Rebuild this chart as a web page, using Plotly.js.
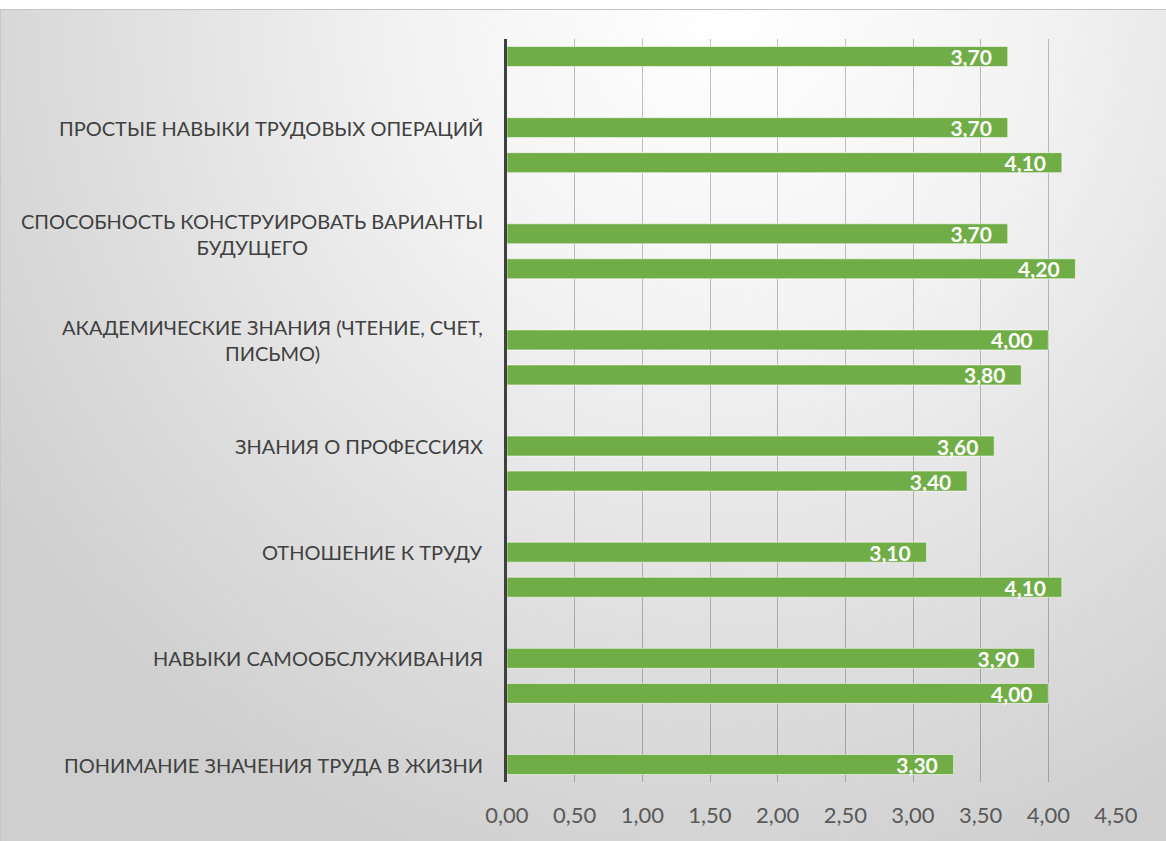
<!DOCTYPE html>
<html>
<head>
<meta charset="utf-8">
<script src="https://cdn.plot.ly/plotly-3.0.1.min.js"></script>
<style>
  html, body { margin:0; padding:0; background:#ffffff; }
  #bg { position:absolute; left:0; top:9px; width:1165px; height:831px;
        border-top:1px solid #c4c4c4; border-left:1px solid #c8c8c8;
        background: radial-gradient(ellipse 75% 110% at 62% 0%, #ffffff 0%, #f3f3f3 35%, #dcdcdc 75%, #cfcfcf 100%); }
  #chart { position:absolute; left:0; top:0; width:1166px; height:841px; }
</style>
</head>
<body>
<div id="bg"></div>
<div id="chart"></div>
<script>
// categories from bottom to top (the top one is cut off at the plot edge, its label is not shown)
const categories = [
  "ПОНИМАНИЕ ЗНАЧЕНИЯ ТРУДА В ЖИЗНИ",
  "НАВЫКИ САМООБСЛУЖИВАНИЯ",
  "ОТНОШЕНИЕ К ТРУДУ",
  "ЗНАНИЯ О ПРОФЕССИЯХ",
  "АКАДЕМИЧЕСКИЕ ЗНАНИЯ (ЧТЕНИЕ, СЧЕТ,<br>ПИСЬМО)",
  "СПОСОБНОСТЬ КОНСТРУИРОВАТЬ ВАРИАНТЫ<br>БУДУЩЕГО",
  "ПРОСТЫЕ НАВЫКИ ТРУДОВЫХ ОПЕРАЦИЙ",
  " "
];
// upper bar of each pair (sits at the category label)
const seriesUpper = [3.30, 3.90, 3.10, 3.60, 4.00, 3.70, 3.70, null];
// lower bar of each pair
const seriesLower = [null, 4.00, 4.10, 3.40, 3.80, 4.20, 4.10, 3.70];
const labeledCategories = categories.filter(c => c.trim() !== "");
const xTickVals = [0, 0.5, 1, 1.5, 2, 2.5, 3, 3.5, 4, 4.5];

const FONT = "Lato, 'Open Sans', sans-serif";

function barTrace(vals, name) {
  return {
    type: "bar", orientation: "h", name: name,
    x: vals, y: categories,
    marker: { color: "#70AD47", line: { color: "rgba(255,255,255,0.55)", width: 1 } },
    texttemplate: "%{x:.2f}\u00a0\u00a0\u2009",
    textposition: "inside", insidetextanchor: "end", constraintext: "none",
    textfont: { family: FONT, size: 21, color: "#ffffff", weight: "bold" },
    hoverinfo: "skip"
  };
}
// in grouped horizontal bars the first trace is placed lowest
const traces = [barTrace(seriesLower, "lower"), barTrace(seriesUpper, "upper")];

const annotations = labeledCategories.map(c => ({
  xref: "paper", yref: "y", x: 0, y: c, xanchor: "right", yanchor: "middle",
  xshift: -22, yshift: 17.5, text: c, showarrow: false, align: "center",
  font: { family: FONT, size: 20, color: "#404040" }
}));

const layout = {
  width: 1166, height: 841,
  paper_bgcolor: "rgba(0,0,0,0)", plot_bgcolor: "rgba(0,0,0,0)",
  margin: { l: 507, r: 50, t: 39, b: 59 },
  separators: ", ",
  showlegend: false,
  barmode: "group",
  bargap: 0.34,
  bargroupgap: 0.43,
  xaxis: {
    range: [0, 4.5], tickmode: "array", tickvals: xTickVals, tickformat: ".2f",
    showgrid: true, gridcolor: "rgba(0,0,0,0.24)", gridwidth: 1,
    zeroline: false, showline: false, ticks: "",
    ticklabelstandoff: 18,
    tickfont: { family: FONT, size: 22, color: "#595959" }
  },
  yaxis: {
    type: "category", categoryorder: "array", categoryarray: categories,
    range: [0, 7], showticklabels: false, showgrid: false, zeroline: false,
    showline: true, linecolor: "#404040", linewidth: 3, ticks: ""
  },
  annotations: annotations
};

Plotly.newPlot("chart", traces, layout, { displayModeBar: false, staticPlot: true });
</script>
</body>
</html>
